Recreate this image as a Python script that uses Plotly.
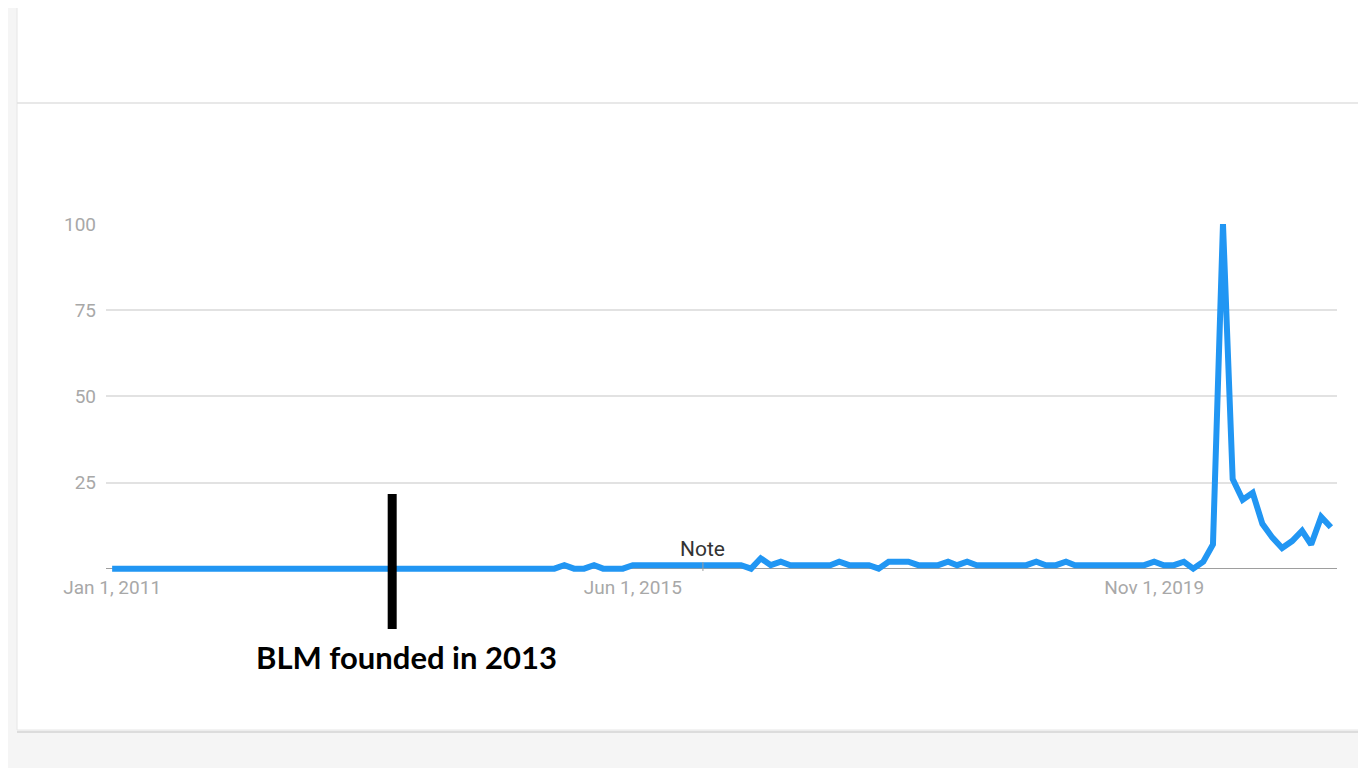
import pandas as pd
import plotly.graph_objects as go

# monthly search interest, Jan 2011 .. May 2021 (Google Trends style, 0-100)
interest = (
    [0] * 46                                   # Jan 2011 - Oct 2014
    + [1, 0, 0, 1, 0, 0, 0]                    # Nov 2014 - May 2015
    + [1] * 11                                 # Jun 2015 - Apr 2016
    + [1, 0, 3, 1, 2, 1, 1, 1, 1, 1, 2, 1, 1, 1, 0, 2, 2, 2, 1, 1, 1,
       2, 1, 2, 1, 1, 1, 1, 1, 1, 2, 1, 1, 2, 1, 1, 1, 1, 1, 1, 1, 1,
       2, 1, 1, 2, 0, 2, 7, 100, 26, 20, 22, 13, 9, 6, 8, 11, 7, 15, 12]
)
months = pd.date_range("2011-01-01", periods=len(interest), freq="MS")

y_ticks = [25, 50, 75, 100]
x_ticks = ["2011-01-01", "2015-06-01", "2019-11-01"]
x_tick_labels = ["Jan 1, 2011", "Jun 1, 2015", "Nov 1, 2019"]

founded = "2013-05-17"
note_date = "2016-01-04"

GREY = "#a8a8a8"

fig = go.Figure(
    data=[
        go.Scatter(x=months, y=interest, mode="lines",
                   line=dict(color="#2196f3", width=6), hoverinfo="skip")
    ]
)

# page has an 8px body margin; plot area sits at page x 106..1337, y 224..579
def px_x(p):
    return (p - 106) / 1231.0

def px_y(p):
    return (579 - p) / 355.0

shapes = [
    # white card on grey page
    dict(type="rect", xref="paper", yref="paper", layer="below",
         x0=px_x(0), x1=px_x(17), y0=px_y(770), y1=px_y(-5),
         fillcolor="#f5f5f5", line=dict(width=0)),
    dict(type="rect", xref="paper", yref="paper", layer="below",
         x0=px_x(17), x1=px_x(1372), y0=px_y(733), y1=px_y(731),
         fillcolor="#dcdcdc", line=dict(width=0)),
    dict(type="rect", xref="paper", yref="paper", layer="below",
         x0=px_x(17), x1=px_x(1372), y0=px_y(730), y1=px_y(-5),
         fillcolor="white", line=dict(color="#e6e6e6", width=1)),
    dict(type="line", xref="paper", yref="paper", layer="below",
         x0=px_x(17), x1=px_x(1372), y0=px_y(103), y1=px_y(103),
         line=dict(color="#e0e0e0", width=1.5)),
    # note tick
    dict(type="line", xref="x", yref="paper", x0=note_date, x1=note_date,
         y0=px_y(571), y1=px_y(562), line=dict(color="#9e9e9e", width=1)),
    # BLM founded marker
    dict(type="line", xref="x", yref="paper", x0=founded, x1=founded,
         y0=px_y(629), y1=px_y(494), line=dict(color="black", width=9)),
]

annotations = [
    dict(x=note_date, xref="x", y=px_y(549), yref="paper", text="Note",
         showarrow=False, font=dict(family="Roboto", size=21, color="#333333"),
         xanchor="center", yanchor="middle"),
    dict(x=founded, xref="x", xshift=14, y=px_y(657), yref="paper",
         text="<b>BLM founded in 2013</b>", showarrow=False,
         font=dict(family="Lato", size=31, color="black"),
         xanchor="center", yanchor="middle"),
]

fig.update_layout(
    width=1358, height=760,
    margin=dict(l=98, r=29, t=216, b=189),
    paper_bgcolor="#f5f5f5", plot_bgcolor="white",
    showlegend=False,
    shapes=shapes, annotations=annotations,
    font=dict(family="Roboto", color=GREY, size=19),
)
fig.update_xaxes(
    range=["2010-12-13", "2021-05-20"],
    tickvals=x_ticks, ticktext=x_tick_labels,
    showgrid=False, zeroline=False, showline=False,
    ticks="", ticklabelstandoff=-5, tickfont=dict(size=19, color=GREY),
)
fig.update_yaxes(
    range=[-3, 100], tickvals=y_ticks,
    showgrid=True, gridcolor="#e2e2e2", gridwidth=1.5,
    zeroline=True, zerolinecolor="#9e9e9e", zerolinewidth=1,
    showline=False, ticks="", ticklabelstandoff=9,
    tickfont=dict(size=19, color=GREY),
)

fig.write_html("out.html")
